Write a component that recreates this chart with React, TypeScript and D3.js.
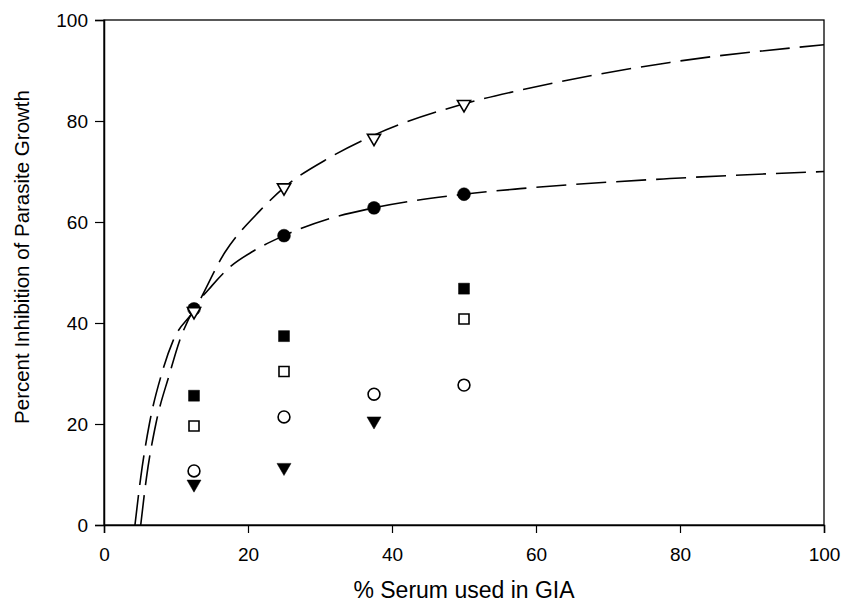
import { useRef, useEffect } from 'react';
import * as d3 from 'd3';

// fitted curves as [x, y]
const fitOpenTriangle: [number, number][] = [
  [4.3, 0], [5.1, 9.4], [6.3, 20], [8.0, 29.9], [9.6, 36.5], [12.5, 42.5],
  [16.8, 54.0], [21.7, 62.3], [25, 66.8], [31.4, 72.8], [37.5, 77.2],
  [50, 83.4], [57.8, 86.1], [78.6, 91.6], [100, 95.1],
];
const fitFilledCircle: [number, number][] = [
  [5.1, 0], [5.9, 9.4], [7.2, 20], [9.1, 29.9], [10.5, 36.5], [12.5, 42.8],
  [15, 47.4], [17.5, 51.1], [20.7, 54.2], [25, 57.3], [31.4, 60.7],
  [37.5, 62.8], [50, 65.5], [57.8, 66.6], [78.6, 68.6], [100, 70.0],
];

const doses = [12.5, 25, 37.5, 50];
const openTriangle = [42.3, 66.8, 76.6, 83.3];
const filledCircle = [42.8, 57.3, 62.8, 65.5];
const filledSquare = [25.6, 37.4, null, 46.8];
const openSquare = [19.6, 30.4, null, 40.8];
const openCircle = [10.7, 21.4, 25.9, 27.7];
const filledTriangle = [8.1, 11.4, 20.6, null];

const xTicks = [0, 20, 40, 60, 80, 100];
const yTicks = [0, 20, 40, 60, 80, 100];

export default function App() {
  const svgRef = useRef<SVGSVGElement>(null);

  useEffect(() => {
    if (!svgRef.current) return;
    const width = 843;
    const height = 606;
    const margin = { top: 20, right: 19, bottom: 81, left: 104 };
    const font = '"Liberation Sans", Arial, Helvetica, sans-serif';

    const svg = d3.select(svgRef.current);
    svg.selectAll('*').remove();
    svg.attr('width', width).attr('height', height);

    const x = d3.scaleLinear().domain([0, 100]).range([margin.left, width - margin.right]);
    const y = d3.scaleLinear().domain([0, 100]).range([height - margin.bottom, margin.top]);

    // frame
    svg.append('rect')
      .attr('x', x(0)).attr('y', y(100))
      .attr('width', x(100) - x(0)).attr('height', y(0) - y(100))
      .attr('fill', 'none').attr('stroke', '#000').attr('stroke-width', 1.3);

    // axes
    svg.append('g')
      .attr('transform', `translate(0,${y(0)})`)
      .call(d3.axisBottom(x).tickValues(xTicks).tickSize(8).tickPadding(15))
      .call(g => g.select('.domain').attr('stroke-width', 1.5))
      .call(g => g.selectAll('.tick line').attr('stroke-width', 1.2))
      .call(g => g.selectAll('.tick text').attr('font-size', 19).attr('font-family', font).attr('fill', '#000'));

    svg.append('g')
      .attr('transform', `translate(${x(0)},0)`)
      .call(d3.axisLeft(y).tickValues(yTicks).tickSize(9).tickPadding(7))
      .call(g => g.select('.domain').attr('stroke-width', 1.5))
      .call(g => g.selectAll('.tick line').attr('stroke-width', 1.2))
      .call(g => g.selectAll('.tick text').attr('font-size', 19).attr('font-family', font).attr('fill', '#000'));

    // axis titles
    svg.append('text')
      .attr('x', (x(0) + x(100)) / 2).attr('y', 598)
      .attr('text-anchor', 'middle')
      .attr('font-size', 23).attr('font-family', font)
      .text('% Serum used in GIA');

    svg.append('text')
      .attr('transform', `translate(29,257) rotate(-90)`)
      .attr('text-anchor', 'middle')
      .attr('font-size', 20.5).attr('font-family', font)
      .text('Percent Inhibition of Parasite Growth');

    // fitted curves
    const line = d3.line<[number, number]>()
      .x(d => x(d[0])).y(d => y(d[1]))
      .curve(d3.curveMonotoneX);

    [fitOpenTriangle, fitFilledCircle].forEach(pts => {
      svg.append('path')
        .attr('d', line(pts))
        .attr('fill', 'none')
        .attr('stroke', '#000')
        .attr('stroke-width', 1.6)
        .attr('stroke-dasharray', '30,10');
    });

    const plot = (values: (number | null)[], type: d3.SymbolType, size: number, filled: boolean) => {
      const pts = doses.map((d, i) => [d, values[i]] as [number, number | null]).filter(p => p[1] != null);
      svg.append('g').selectAll('path')
        .data(pts)
        .join('path')
        .attr('transform', d => `translate(${x(d[0])},${y(d[1] as number)})`)
        .attr('d', d3.symbol().type(type).size(size)())
        .attr('fill', filled ? '#000' : '#fff')
        .attr('stroke', '#000')
        .attr('stroke-width', filled ? 0.5 : 1.6);
    };

    // inverted triangle symbol
    const triDown: d3.SymbolType = {
      draw(ctx, size) {
        const s = Math.sqrt(size / 0.433);
        const h = s * Math.sqrt(3) / 2;
        ctx.moveTo(-s / 2, -h / 3);
        ctx.lineTo(s / 2, -h / 3);
        ctx.lineTo(0, (2 * h) / 3);
        ctx.closePath();
      },
    };

    plot(filledCircle, d3.symbolCircle, 130, true);
    plot(openTriangle, triDown, 75, false);
    plot(filledSquare, d3.symbolSquare, 120, true);
    plot(openSquare, d3.symbolSquare, 100, false);
    plot(openCircle, d3.symbolCircle, 110, false);
    plot(filledTriangle, triDown, 85, true);
  }, []);

  return (
    <svg ref={svgRef} style={{ position: 'absolute', left: 0, top: 0, background: '#fff' }} />
  );
}
